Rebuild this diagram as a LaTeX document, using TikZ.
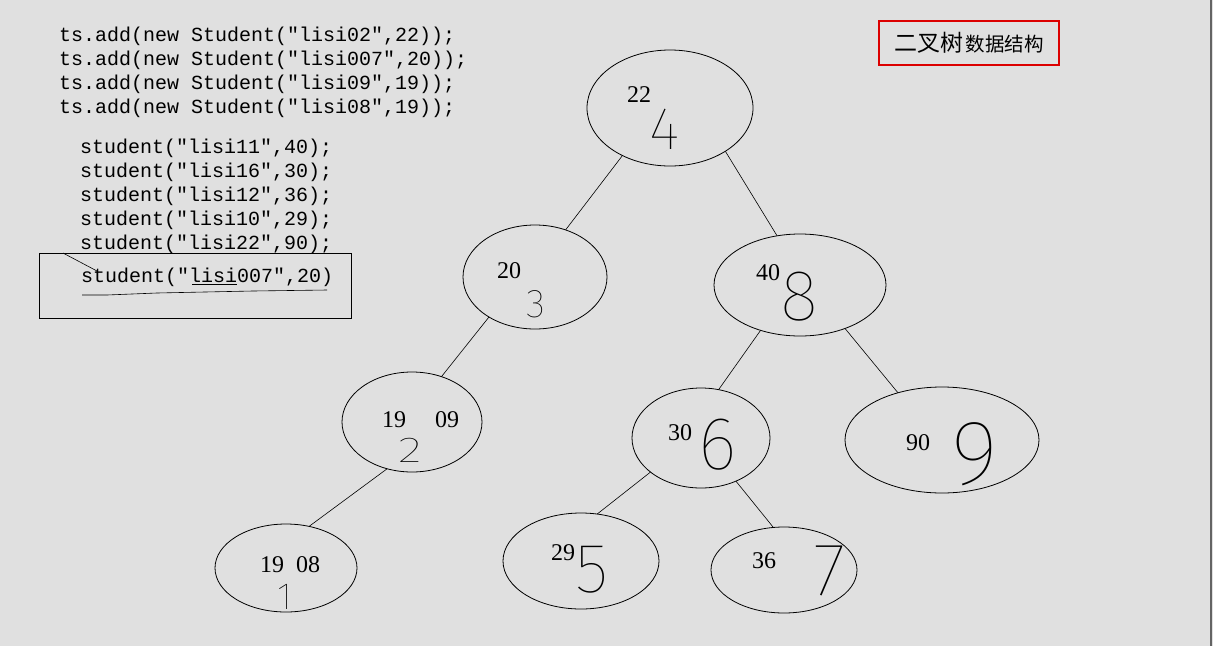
\documentclass[tikz,border=0pt]{standalone}
\usepackage{fontspec}
\setmainfont{Liberation Serif}
\newfontfamily\codefont{Liberation Mono}
\newfontfamily\cjk{Noto Sans CJK SC}
\newfontfamily\handfont{Fira Sans Thin}
\usetikzlibrary{shapes.geometric}
\definecolor{screen}{RGB}{224,224,224}
\definecolor{winframe}{RGB}{100,100,100}
\definecolor{titlered}{RGB}{220,0,0}

\begin{document}
\begin{tikzpicture}[x=1pt, y=-1pt,
  every node/.style={inner sep=0pt, outer sep=0pt},
  tnode/.style 2 args={draw, ellipse, line width=0.8pt,
                       minimum width=#1, minimum height=#2},
  edge/.style={line width=0.6pt},
  key/.style={font=\fontsize{24}{24}\selectfont},
  hand/.style={font=\handfont\fontsize{#1}{#1}\selectfont},
  code/.style={font=\codefont\fontsize{20}{24}\selectfont, anchor=base west}
]
  \fill[screen] (0,0) rectangle (1213,646);
  \useasboundingbox (0,0) rectangle (1213,646);
  \draw[winframe, line width=2pt] (1211,0) -- (1211,646);

  % the code on the left
  \node[code] (a1) at (59,41)  {ts.add(new Student("lisi02",22));};
  \node[code] (a2) at (59,65)  {ts.add(new Student("lisi007",20));};
  \node[code] (a3) at (59,89)  {ts.add(new Student("lisi09",19));};
  \node[code] (a4) at (59,113) {ts.add(new Student("lisi08",19));};
  \node[code] (s1) at (80,153) {student("lisi11",40);};
  \node[code] (s2) at (80,177) {student("lisi16",30);};
  \node[code] (s3) at (80,201) {student("lisi12",36);};
  \node[code] (s4) at (80,225) {student("lisi10",29);};
  \node[code] (s5) at (80,249) {student("lisi22",90);};
  \node[code] (s6) at (81,282) {student("lisi007",20)};
  \draw[line width=0.8pt] (39,253) rectangle (351,318);
  \draw[line width=0.6pt] (63,253) -- (97,271);
  \draw[line width=0.6pt] (192,284) -- (237,284);
  \draw[line width=0.6pt] (82,295) -- (107,295) -- (157,293) -- (253,291) -- (327,290);

  % title
  \node[draw=titlered, line width=1.5pt, minimum width=180pt, minimum height=44pt]
    (title) at (969,43)
    {\cjk{\fontsize{23}{23}\selectfont 二叉树} {\fontsize{19.5}{19.5}\selectfont 数据结构}};

  % the tree
  \node[tnode={166pt}{116pt}] (n22) at (670,108) {};
  \node[tnode={144pt}{104pt}] (n20) at (535,277) {};
  \node[tnode={172pt}{102pt}] (n40) at (800,285) {};
  \node[tnode={140pt}{100pt}] (n19) at (412,422) {};
  \node[tnode={138pt}{100pt}] (n30) at (701,438) {};
  \node[tnode={194pt}{106pt}] (n90) at (942,440) {};
  \node[tnode={142pt}{88pt}]  (n08) at (286,568) {};
  \node[tnode={156pt}{96pt}]  (n29) at (581,561) {};
  \node[tnode={146pt}{86pt}]  (n36) at (784,570) {};

  \draw[edge] (n22.225) -- (n20.57);
  \draw[edge] (n22.322) -- (n40.115);
  \draw[edge] (n20.221) -- (n19.57);
  \draw[edge] (n40.229) -- (n30.70);
  \draw[edge] (n40.316) -- (n90.133);
  \draw[edge] (n19.242) -- (n08.61);
  \draw[edge] (n30.214) -- (n29.71);
  \draw[edge] (n30.309) -- (n36.104);

  % ages and names
  \node[key] (k22) at (639,95) {22};
  \node[key] (k20) at (509,271) {20};
  \node[key] (k40) at (768,273) {40};
  \node[key] (k19) at (394,420) {19};
  \node[key] (k09) at (447,420) {09};
  \node[key] (k30) at (680,433) {30};
  \node[key] (k90) at (918,443) {90};
  \node[key] (k08) at (290,565) {19\ \ 08};
  \node[key] (k29) at (563,553) {29};
  \node[key] (k36) at (764,561) {36};

  % order of insertion, written by hand
  \node[hand=60] (o22) at (665,129) {4};
  \node[hand=40] (o20) at (536,304) {3};
  \node[hand=72] (o40) at (799,297) {8};
  \node[hand=36, xscale=1.4] (o19) at (410,450) {2};
  \node[hand=75] (o30) at (718,445) {6};
  \node[hand=92] (o90) at (975,454) {9};
  \node[hand=38] (o08) at (285,597) {1};
  \node[hand=70] (o29) at (592,570) {5};
  \node[hand=75] (o36) at (830,571) {7};
\end{tikzpicture}
\end{document}
